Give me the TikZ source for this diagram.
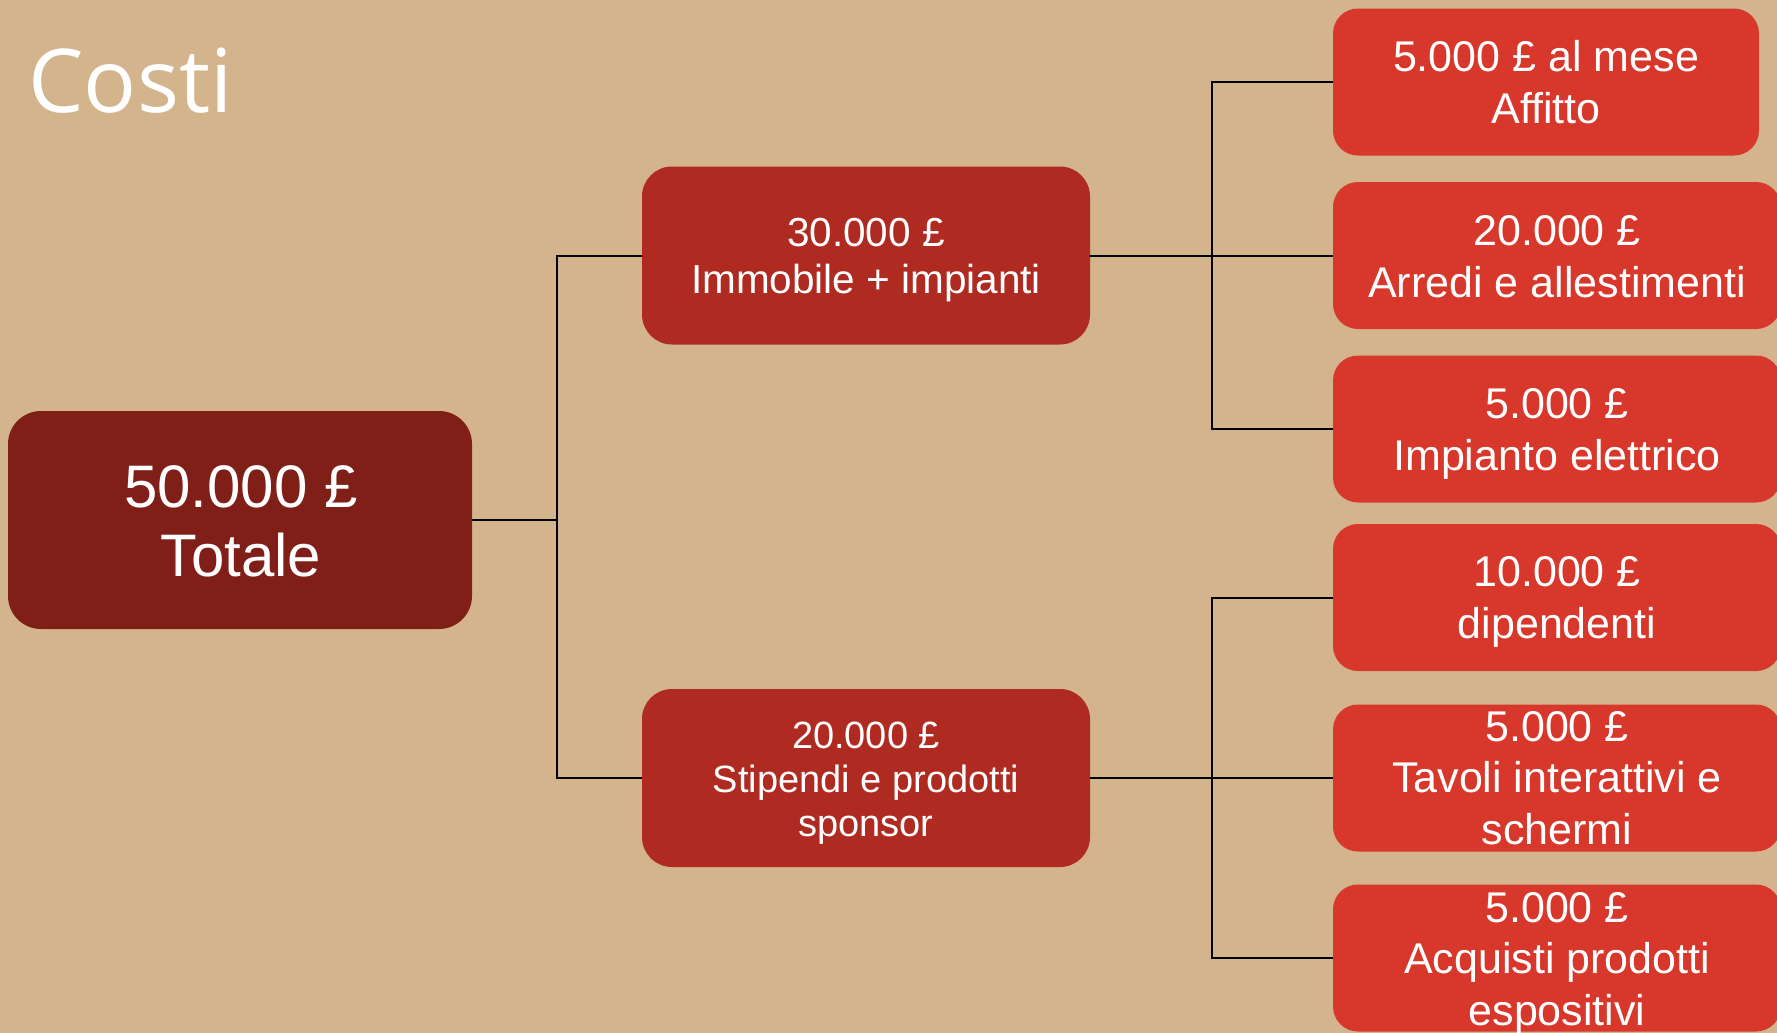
\documentclass[tikz,border=0pt]{standalone}
\usepackage{fontspec}
\setmainfont{Liberation Sans}
\newfontfamily\titlefont{Open Sans}
\definecolor{bg}{HTML}{D4B48C}
\definecolor{ctot}{HTML}{801F18}
\definecolor{cmid}{HTML}{AF2A20}
\definecolor{cright}{HTML}{D7382B}
\begin{document}
\begin{tikzpicture}[x=0.5pt,y=-0.5pt,
  boxbase/.style={inner sep=0pt, outer sep=0pt, draw=none},
  totbox/.style={boxbase, fill=ctot, rounded corners=16.5pt, minimum width=232pt, minimum height=109pt},
  midbox/.style={boxbase, fill=cmid, rounded corners=15pt, minimum width=224pt, minimum height=89pt},
  rbox/.style={boxbase, fill=cright, rounded corners=12.5pt, minimum width=224pt, minimum height=73.5pt},
  txt/.style={text=white, align=center, inner sep=0pt, anchor=base},
  tottxt/.style={txt, font=\fontsize{30pt}{34.5pt}\selectfont},
  midtxt/.style={txt, font=\fontsize{20.25pt}{23.5pt}\selectfont},
  midtxtb/.style={txt, font=\fontsize{19pt}{22pt}\selectfont},
  rtxt/.style={txt, font=\fontsize{21.5pt}{25.75pt}\selectfont},
  conn/.style={draw=black, line width=1pt}]
\fill[bg] (0,0) rectangle (1777,1033);
\useasboundingbox (0,0) rectangle (1777,1033);

% title
\node[text=white, inner sep=0pt, anchor=base west, font=\titlefont\fontsize{44pt}{50pt}\selectfont] (title) at (28,112) {Costi};

% boxes
\node[totbox] (tot) at (240,520) {};
\node[midbox] (m1) at (866,255.5) {};
\node[midbox] (m2) at (866,778) {};
\node[rbox, minimum width=213pt] (r1) at (1546,82) {};
\node[rbox] (r2) at (1557,255.5) {};
\node[rbox] (r3) at (1557,429) {};
\node[rbox] (r4) at (1557,597.5) {};
\node[rbox] (r5) at (1557,778) {};
\node[rbox] (r6) at (1557,958) {};

% texts (anchor base = baseline of the last line)
\node[tottxt] (ttot) at (241,576) {50.000 £\\Totale};
\node[midtxt] (tm1) at (866,293) {30.000 £\\Immobile + impianti};
\node[midtxtb] (tm2) at (866,836) {20.000 £\\Stipendi e prodotti\\sponsor};
\node[rtxt] (tr1) at (1546,123) {5.000 £ al mese\\Affitto};
\node[rtxt] (tr2) at (1557,297) {20.000 £\\Arredi e allestimenti};
\node[rtxt] (tr3) at (1557,470) {5.000 £\\Impianto elettrico};
\node[rtxt] (tr4) at (1557,638) {10.000 £\\dipendenti};
\node[rtxt] (tr5) at (1557,844) {5.000 £\\Tavoli interattivi e\\schermi};
\node[rtxt] (tr6) at (1557,1025) {5.000 £\\Acquisti prodotti\\espositivi};

% connectors
\coordinate (j1) at (557,520);
\coordinate (j2) at (1212,255.5);
\coordinate (j3) at (1212,778);
\draw[conn] (tot.east) -- (j1);
\draw[conn] (m1.west) -| (j1) |- (m2.west);
\draw[conn] (m1.east) -- (r2.west);
\draw[conn] (r1.west) -| (j2) |- (r3.west);
\draw[conn] (m2.east) -- (r5.west);
\draw[conn] (r4.west) -| (j3) |- (r6.west);
\end{tikzpicture}
\end{document}
